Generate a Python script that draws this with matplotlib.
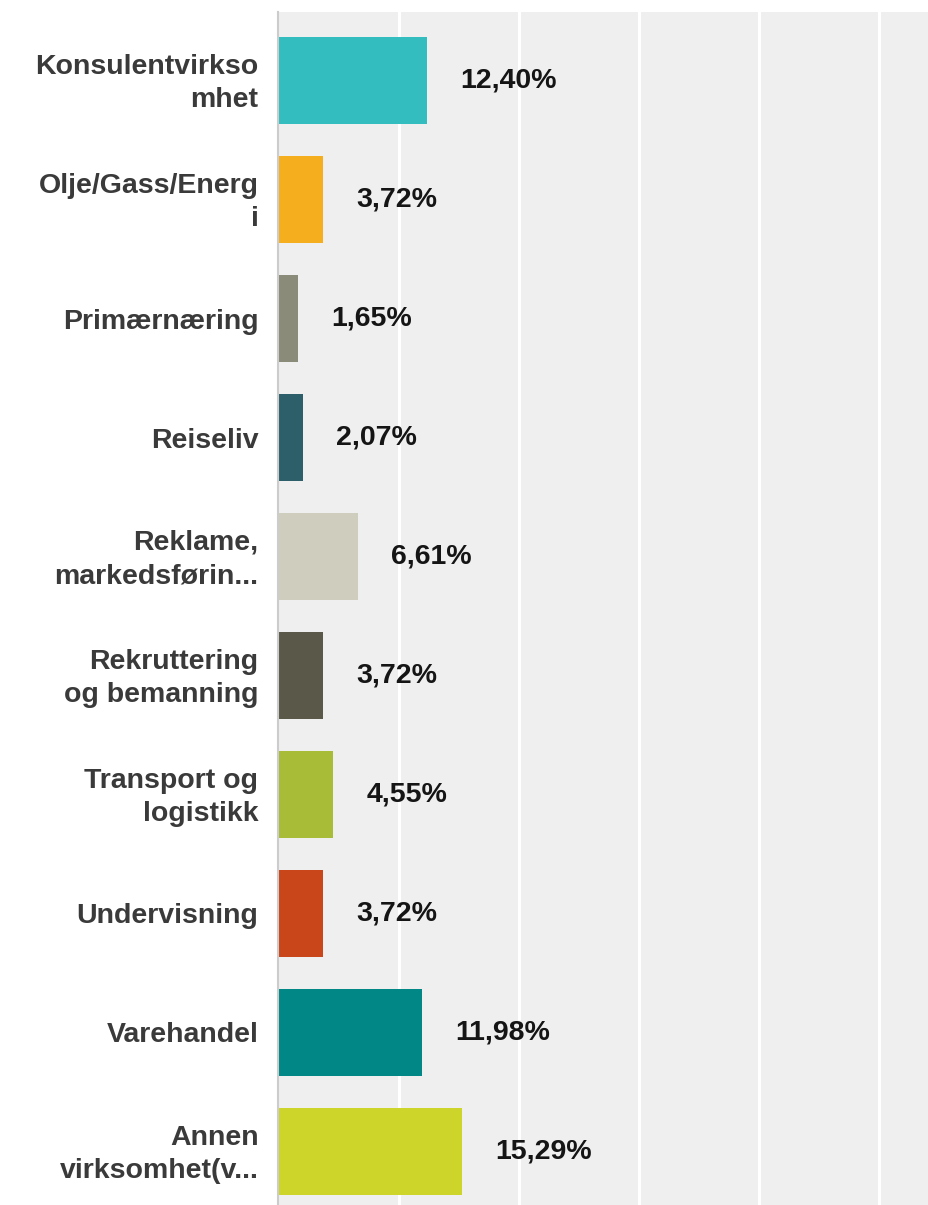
import matplotlib.pyplot as plt
import matplotlib.transforms as mtransforms

# ==== DATI ====
categories = [
    "Konsulentvirkso\nmhet",
    "Olje/Gass/Energ\ni",
    "Primærnæring",
    "Reiseliv",
    "Reklame,\nmarkedsførin...",
    "Rekruttering\nog bemanning",
    "Transport og\nlogistikk",
    "Undervisning",
    "Varehandel",
    "Annen\nvirksomhet(v...",
]
values = [12.40, 3.72, 1.65, 2.07, 6.61, 3.72, 4.55, 3.72, 11.98, 15.29]
colors = ["#33BDBE", "#F5AF1E", "#8A8B79", "#2D5F6B", "#CFCEBE",
          "#5A5949", "#A8BC38", "#C8461A", "#008786", "#CED52A"]
grid_ticks = [10, 20, 30, 40, 50]

plt.rcParams['font.family'] = ['Liberation Sans', 'DejaVu Sans']

# ==== FIGURA ====
fig = plt.figure(figsize=(9.29, 12.05), dpi=100)
ax = fig.add_axes([278.5 / 929, 0, 1 - 278.5 / 929, 1 - 12 / 1205])
ax.set_facecolor("#EFEFEF")

pos = list(range(len(values)))
ax.barh(pos, values, height=0.73, color=colors, zorder=3)

ax.set_xlim(0, 54.2)
ax.set_ylim(9.45, -0.576)

# griglia verticale bianca
ax.set_xticks(grid_ticks)
ax.xaxis.grid(True, color="white", linewidth=2.2, zorder=1)
ax.tick_params(axis="x", length=0, labelbottom=False)
ax.set_yticks([])

for s in ["top", "right", "bottom"]:
    ax.spines[s].set_visible(False)
ax.spines["left"].set_color("#CCCCCC")
ax.spines["left"].set_linewidth(1.5)
ax.spines["left"].set_zorder(4)

# etichette categorie (a sinistra dell'asse)
trans = mtransforms.offset_copy(ax.get_yaxis_transform(), fig=fig,
                                x=-20, y=-3, units="dots")
for i, cat in enumerate(categories):
    ax.text(0, i, cat, transform=trans, ha="right", va="center",
            fontsize=20.5, fontweight="bold", color="#3A3A3A",
            linespacing=1.375, clip_on=False)

# etichette valori
for i, v in enumerate(values):
    ax.annotate(f"{v:.2f}%".replace(".", ","), xy=(v, i),
                xytext=(23.8, 0), textcoords="offset points",
                ha="left", va="center", fontsize=20.5, fontweight="bold",
                color="#151515", zorder=5)

fig.savefig("out.png", dpi=100)
